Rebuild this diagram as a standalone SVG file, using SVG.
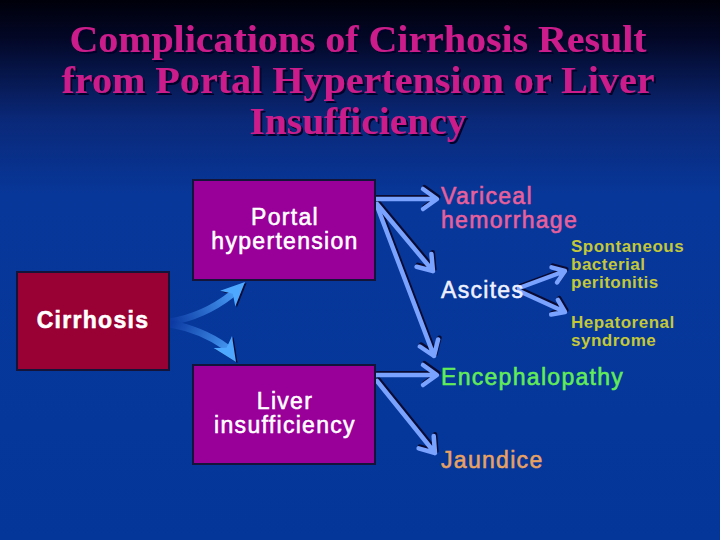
<svg xmlns="http://www.w3.org/2000/svg" xmlns:xlink="http://www.w3.org/1999/xlink" width="720" height="540" viewBox="0 0 720 540">
<defs>
<linearGradient id="bg" x1="0" y1="0" x2="0" y2="1">
<stop offset="0" stop-color="#00000a"/>
<stop offset="0.07" stop-color="#030726"/>
<stop offset="0.22" stop-color="#0a2878"/>
<stop offset="0.36" stop-color="#073799"/>
<stop offset="1" stop-color="#04369a"/>
</linearGradient>
<linearGradient id="cu" gradientUnits="userSpaceOnUse" x1="172" y1="322" x2="242" y2="285">
<stop offset="0" stop-color="#0c3aa2"/>
<stop offset="1" stop-color="#4fa8ff"/>
</linearGradient>
<linearGradient id="cd" gradientUnits="userSpaceOnUse" x1="172" y1="324" x2="236" y2="361">
<stop offset="0" stop-color="#0c3aa2"/>
<stop offset="1" stop-color="#4fa8ff"/>
</linearGradient>
<filter id="sh" x="-5%" y="-20%" width="110%" height="140%">
<feDropShadow dx="2" dy="2" stdDeviation="0.6" flood-color="#05052a" flood-opacity="1"/>
</filter>
<g id="arr">
<path d="M375,199 L436,199 M423,189 L437,199 L423,209"/>
<path d="M377,204 L433,271 M431.4,254 L433,271 L416.6,266.7"/>
<path d="M377,206 L434,356 M438.1,339.5 L434,356 L419.9,346.5"/>
<path d="M376,375 L436,375 M423,365 L437,375 L423,385"/>
<path d="M377,381 L435,453 M433.7,436 L435,453 L418.6,448.4"/>
<path d="M519,288 L565,271 M551.5,267.4 L565,271 L557,282.5"/>
<path d="M519,291 L565,312 M557.9,299.9 L565,312 L551.2,314.5"/>
</g>
<style>
.t{font-family:"Liberation Serif","Times New Roman",serif;font-weight:bold;font-size:37px;text-anchor:middle;fill:#cc1f8c}
.s{font-family:"Liberation Sans",Arial,sans-serif;font-size:23px;letter-spacing:1.3px;stroke-width:0.55px}
.box{stroke:#14143a;stroke-width:2}
.lbl{fill:#ffffff;stroke:#ffffff;text-anchor:middle}
.sm{font-size:17px;font-weight:bold;letter-spacing:0.5px;fill:#c4c838;stroke:none}
</style>
</defs>
<rect width="720" height="540" fill="url(#bg)"/>
<g id="title" filter="url(#sh)">
<text class="t" x="358" y="52" textLength="577" lengthAdjust="spacingAndGlyphs">Complications of Cirrhosis Result</text>
<text class="t" x="358" y="93" textLength="593" lengthAdjust="spacingAndGlyphs">from Portal Hypertension or Liver</text>
<text class="t" x="358" y="134" textLength="217" lengthAdjust="spacingAndGlyphs">Insufficiency</text>
</g>
<g id="connectors">
<use xlink:href="#arr" href="#arr" fill="none" stroke="#0a0a32" stroke-width="4.5" stroke-linecap="round" stroke-linejoin="round" transform="translate(1.3,-1.8)"/>
<use xlink:href="#arr" href="#arr" fill="none" stroke="#7aa2ff" stroke-width="4.5" stroke-linecap="round" stroke-linejoin="round"/>
<g id="curved">
<g transform="translate(1.5,1)" fill="#0a0a32" stroke="none">
<polygon points="245,282 235.3,306.5 232.8,293.7 220.1,290.7"/>
<polygon points="236,362 232,336 226.6,347.8 213.6,348"/>
</g>
<path d="M170,322 C193,318 213,309 231,295" fill="none" stroke="url(#cu)" stroke-width="7" stroke-linecap="round"/>
<path d="M170,324 C193,328 212,337 226,347" fill="none" stroke="url(#cd)" stroke-width="7" stroke-linecap="round"/>
<polygon points="245,282 235.3,306.5 232.8,293.7 220.1,290.7" fill="#4fa8ff"/>
<polygon points="236,362 232,336 226.6,347.8 213.6,348" fill="#4fa8ff"/>
</g>
</g>
<g id="portal">
<rect class="box" x="193" y="180" width="182" height="100" fill="#990099"/>
<text class="s lbl" x="285" y="225">Portal</text>
<text class="s lbl" x="285" y="249">hypertension</text>
</g>
<g id="cirrhosis">
<rect class="box" x="17" y="272" width="152" height="98" fill="#990033"/>
<text class="s lbl" x="93" y="328" font-weight="bold" letter-spacing="1.1" stroke="none">Cirrhosis</text>
</g>
<g id="liver">
<rect class="box" x="193" y="365" width="182" height="99" fill="#990099"/>
<text class="s lbl" x="285" y="409">Liver</text>
<text class="s lbl" x="285" y="433">insufficiency</text>
</g>
<g id="variceal">
<text class="s" x="441" y="204" fill="#e8609c" stroke="#e8609c">Variceal</text>
<text class="s" x="441" y="228" fill="#e8609c" stroke="#e8609c">hemorrhage</text>
</g>
<g id="ascites">
<text class="s" x="441" y="298" fill="#eef0ff" stroke="#eef0ff">Ascites</text>
</g>
<g id="sbp">
<text class="s sm" x="571" y="252">Spontaneous</text>
<text class="s sm" x="571" y="270">bacterial</text>
<text class="s sm" x="571" y="288">peritonitis</text>
</g>
<g id="hrs">
<text class="s sm" x="571" y="328">Hepatorenal</text>
<text class="s sm" x="571" y="346">syndrome</text>
</g>
<g id="encephalopathy">
<text class="s" x="441" y="385" fill="#62ec58" stroke="#62ec58">Encephalopathy</text>
</g>
<g id="jaundice">
<text class="s" x="441" y="468" fill="#e8a262" stroke="#e8a262">Jaundice</text>
</g>
</svg>
